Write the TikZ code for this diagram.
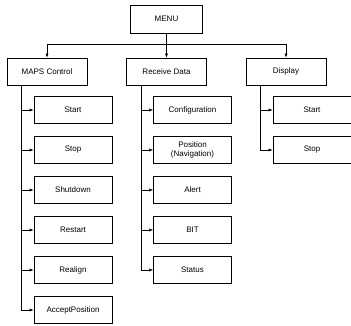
\documentclass[tikz,border=0pt]{standalone}
\usepackage{fontspec}
\setmainfont{Liberation Sans}
\usetikzlibrary{arrows.meta, trees}

\begin{document}
\begin{tikzpicture}[
    x = 1pt, y = 1pt,
    >= {Latex[length=4pt, width=3pt]},
    box/.style = {draw, rectangle, line width=0.6pt, align=center,
      font=\fontsize{8}{9}\selectfont, inner sep=1pt, minimum height=27pt},
    root/.style = {box, minimum width=72pt, minimum height=28pt},
    group/.style = {box, minimum width=80pt},
    leaf/.style = {box, minimum width=78pt},
    level 1/.style = {sibling distance=119.5pt, level distance=52.5pt,
      edge from parent path={(\tikzparentnode.south) -- ++(0,-11pt) -| (\tikzchildnode.north)}},
    level 2/.style = {grow via three points={one child at (26,-38.5) and two children at (26,-38.5) and (26,-78.5)},
      edge from parent path={([xshift=15pt]\tikzparentnode.south west) |- (\tikzchildnode.west)}},
    edge from parent/.style = {draw, line width=0.5pt, ->}
  ]
  \useasboundingbox (0,0) rectangle (351,-325);
  \node[root] (menu) at (166.5,-19) {MENU}
   child { node[group] (ctl) {MAPS Control}
     child { node[leaf] (ctl1) {Start}}
     child { node[leaf] (ctl2) {Stop}}
     child { node[leaf] (ctl3) {Shutdown}}
     child { node[leaf] (ctl4) {Restart}}
     child { node[leaf] (ctl5) {Realign}}
     child { node[leaf] (ctl6) {AcceptPosition}}
   }
   child { node[group] (rcv) {Receive Data}
     child { node[leaf] (rcv1) {Configuration}}
     child { node[leaf] (rcv2) {Position\\(Navigation)}}
     child { node[leaf] (rcv3) {Alert}}
     child { node[leaf] (rcv4) {BIT}}
     child { node[leaf] (rcv5) {Status}}
   }
   child { node[group] (dsp) {Display}
     child { node[leaf] (dsp1) {Start}}
     child { node[leaf] (dsp2) {Stop}}
   };
\end{tikzpicture}
\end{document}
